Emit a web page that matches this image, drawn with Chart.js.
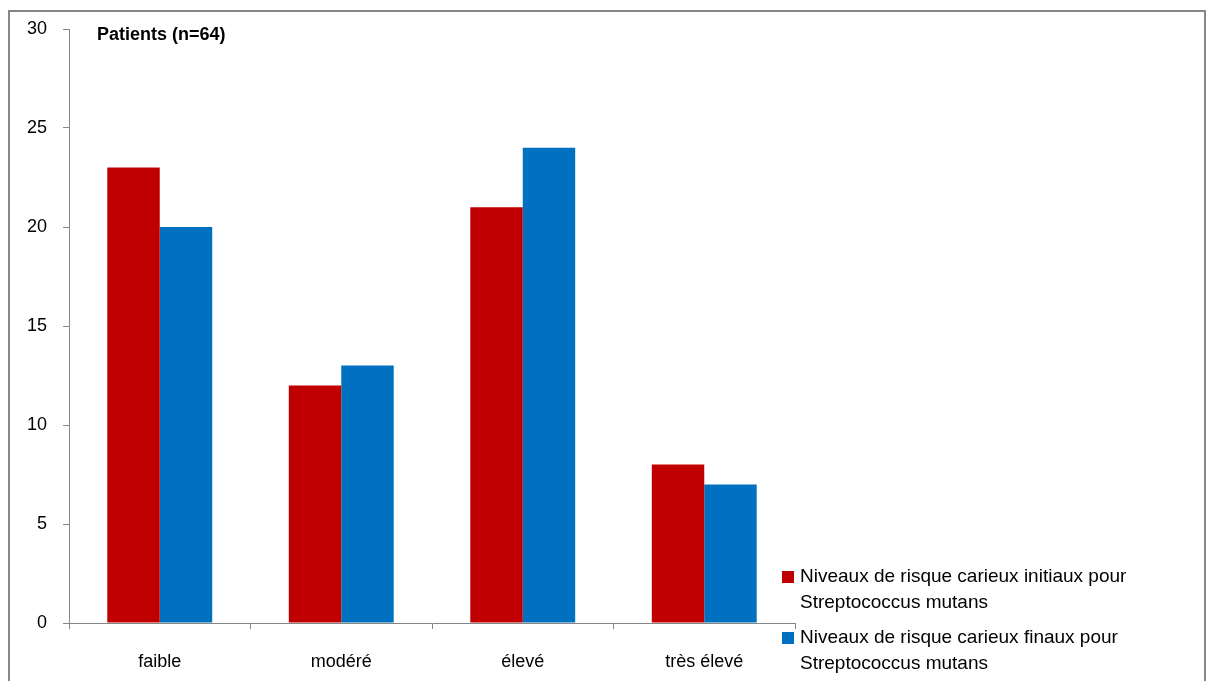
<!DOCTYPE html>
<html>
<head>
<meta charset="utf-8">
<script src="https://cdn.jsdelivr.net/npm/chart.js@4"></script>
<style>
html,body{margin:0;padding:0;background:#fff;}
#wrap{position:relative;width:1206px;height:681px;}
</style>
</head>
<body>
<div id="wrap"><canvas id="c" width="1206" height="681"></canvas></div>
<script>
const categories = ['faible', 'modéré', 'élevé', 'très élevé'];
const initialValues = [23, 12, 21, 8];
const finalValues = [20, 13, 24, 7];
const seriesNames = [
  ['Niveaux de risque carieux initiaux pour', 'Streptococcus mutans'],
  ['Niveaux de risque carieux finaux pour', 'Streptococcus mutans']
];
const seriesColors = ['#C00000', '#0070C0'];
const yTicks = [0, 5, 10, 15, 20, 25, 30];
const chartTitle = 'Patients (n=64)';

const FONT = '"Liberation Sans", Arial, sans-serif';
const AXIS = '#868686';

const framePlugin = {
  id: 'frame',
  beforeDraw(chart) {
    const ctx = chart.ctx;
    ctx.save();
    ctx.fillStyle = '#fff';
    ctx.fillRect(0, 0, chart.width, chart.height);
    ctx.strokeStyle = AXIS;
    ctx.lineWidth = 2;
    ctx.strokeRect(9, 11, 1196, 690);
    ctx.restore();
  },
  afterDraw(chart) {
    const ctx = chart.ctx;
    const area = chart.chartArea;
    ctx.save();
    // title
    ctx.fillStyle = '#000';
    ctx.font = 'bold 18px ' + FONT;
    ctx.textBaseline = 'middle';
    ctx.textAlign = 'left';
    ctx.fillText(chartTitle, area.left + 28, 35);
    // legend
    ctx.font = '19px ' + FONT;
    const tops = [571, 632];
    chart.data.datasets.forEach((ds, i) => {
      ctx.fillStyle = ds.backgroundColor;
      ctx.fillRect(782, tops[i], 12, 12);
      ctx.fillStyle = '#000';
      const lines = seriesNames[i];
      lines.forEach((ln, j) => {
        ctx.fillText(ln, 800, tops[i] + 6 + j * 26);
      });
    });
    ctx.restore();
  }
};

new Chart(document.getElementById('c'), {
  type: 'bar',
  data: {
    labels: categories,
    datasets: [
      { label: seriesNames[0].join(' '), data: initialValues, backgroundColor: seriesColors[0], borderWidth: 0 },
      { label: seriesNames[1].join(' '), data: finalValues, backgroundColor: seriesColors[1], borderWidth: 0 }
    ]
  },
  options: {
    responsive: false,
    animation: false,
    devicePixelRatio: 1,
    layout: { padding: { top: 29, right: 411, left: 0, bottom: 0 } },
    datasets: { bar: { categoryPercentage: 0.578, barPercentage: 1 } },
    plugins: { legend: { display: false }, title: { display: false }, tooltip: { enabled: false } },
    scales: {
      x: {
        grid: { display: true, offset: true, drawOnChartArea: false, drawTicks: true, tickLength: 6, color: AXIS, lineWidth: 1 },
        border: { display: true, color: AXIS, width: 1 },
        ticks: { color: '#000', font: { family: FONT, size: 18 }, padding: 22 },
        afterFit(scale) { scale.height = 58; }
      },
      y: {
        min: 0, max: 30,
        afterBuildTicks(scale) { scale.ticks = yTicks.map(v => ({ value: v })); },
        grid: { display: true, drawOnChartArea: false, drawTicks: true, tickLength: 6, color: AXIS, lineWidth: 1 },
        border: { display: true, color: AXIS, width: 1 },
        ticks: { color: '#000', font: { family: FONT, size: 18 }, padding: 16 },
        afterFit(scale) { scale.width = 69; }
      }
    }
  },
  plugins: [framePlugin]
});
</script>
</body>
</html>
